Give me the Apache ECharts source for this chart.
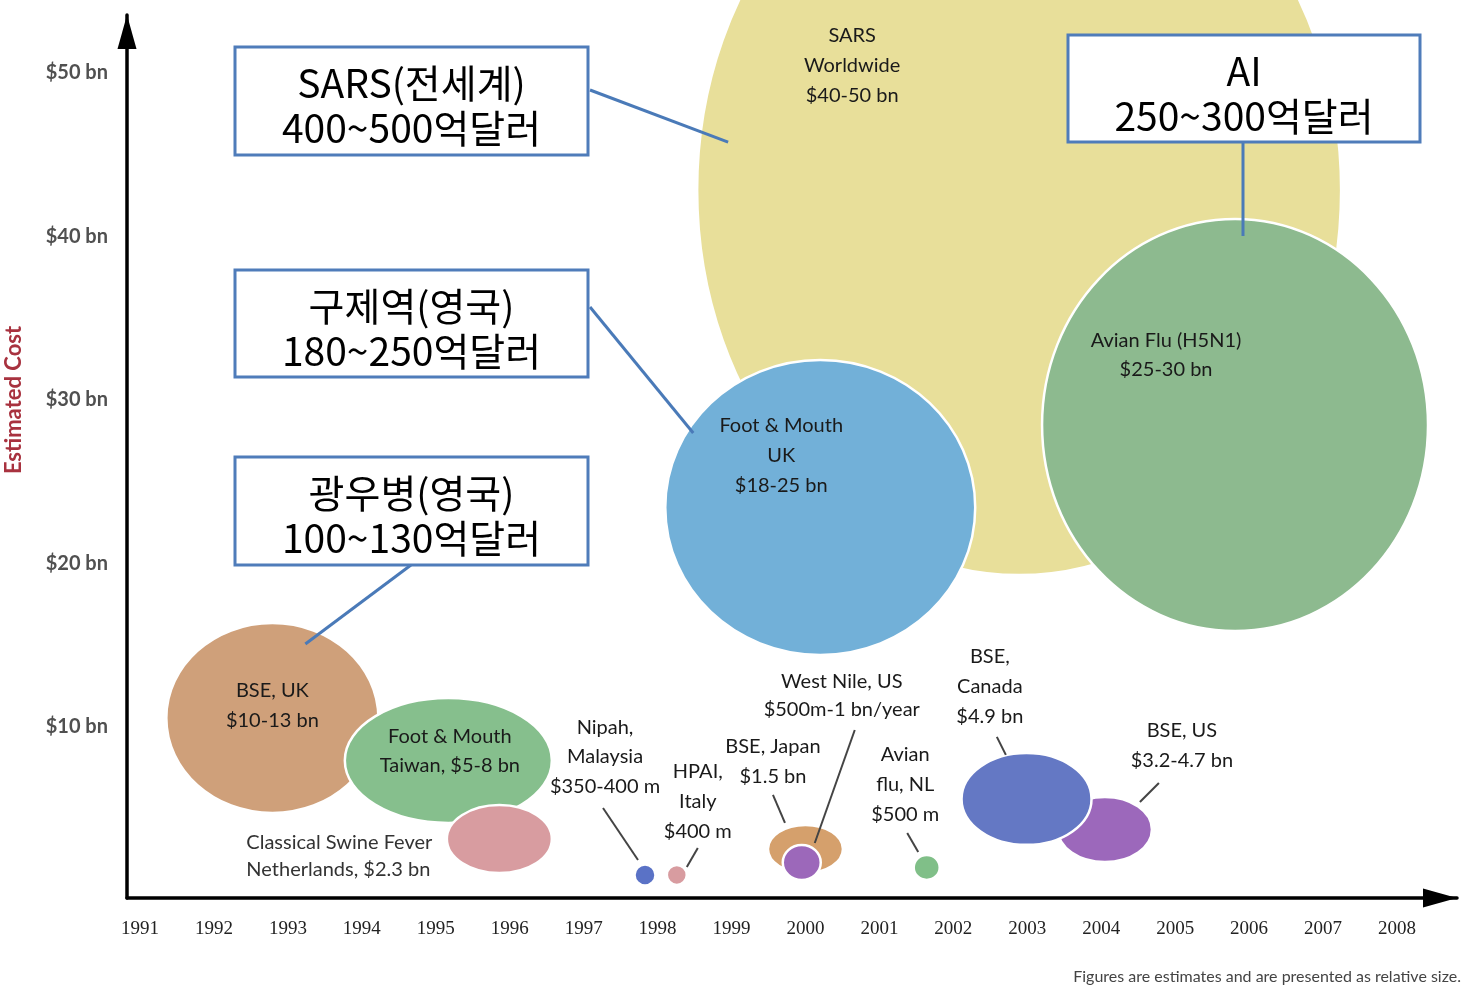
<!DOCTYPE html>
<html><head><meta charset="utf-8">
<script src="https://cdn.jsdelivr.net/npm/echarts@6/dist/echarts.min.js"></script>
<style>html,body{margin:0;padding:0;background:#fff}#c{width:1469px;height:998px}</style>
</head><body><div id="c"></div><script>
// ---- data ----
const yearTicks = [1991,1992,1993,1994,1995,1996,1997,1998,1999,2000,2001,2002,2003,2004,2005,2006,2007,2008];
const costTicks = [10,20,30,40,50];
const names = ['SARS Worldwide','Foot & Mouth UK','Avian Flu (H5N1)','BSE UK','Foot & Mouth Taiwan','Classical Swine Fever NL','Nipah Malaysia','HPAI Italy','BSE Japan','West Nile US','Avian flu NL','BSE US','BSE Canada'];
const labels = ['SARS\nWorldwide\n$40-50 bn','Foot & Mouth\nUK\n$18-25 bn','Avian Flu (H5N1)\n$25-30 bn','BSE, UK\n$10-13 bn','Foot & Mouth\nTaiwan, $5-8 bn','Classical Swine Fever\nNetherlands, $2.3 bn','Nipah,\nMalaysia\n$350-400 m','HPAI,\nItaly\n$400 m','BSE, Japan\n$1.5 bn','West Nile, US\n$500m-1 bn/year','Avian\nflu, NL\n$500 m','BSE, US\n$3.2-4.7 bn','BSE,\nCanada\n$4.9 bn'];
// bubble centre (year, $bn) and relative size (half-width in years, half-height in $bn)
const years  = [2002.89, 2000.20, 2005.81, 1992.79, 1995.17, 1995.86, 1997.83, 1998.26, 2000.00, 1999.95, 2001.64, 2004.05, 2002.99];
const costs  = [42.84,   23.43,   28.47,   10.55,   7.95,    3.15,    0.95,    0.95,    2.54,    1.71,    1.41,    3.73,    5.60];
const spanX  = [4.355,   2.096,   2.61,    1.434,   1.40,    0.71,    0.142,   0.135,   0.507,   0.257,   0.176,   0.636,   0.879];
const spanY  = [23.55,   9.02,    12.6,    5.81,    3.82,    2.08,    0.64,    0.61,    1.47,    1.07,    0.765,   1.99,    2.81];
const calloutTitles = ['SARS(전세계)','구제역(영국)','광우병(영국)','AI'];
const calloutValues = ['400~500억달러','180~250억달러','100~130억달러','250~300억달러'];
const calloutTarget = [0, 1, 3, 2];

// ---- styles ----
const colors = ['#e8df9a','#72b0d8','#8dba8f','#cfa07a','#86bf8d','#d89ca0','#5a72c6','#d89ca0','#d5a06c','#9c68ba','#80bf88','#9c68bb','#6478c4'];
const labelLayout = [
  {dx:-167, dy:-125, lh:30},
  {dx:-39, dy:-52, lh:30},
  {dx:-69, dy:-70, lh:29},
  {dx:0, dy:-12, lh:30},
  {dx:1.5, dy:-9, lh:29},
  {dx:-253, dy:17.5, lh:27, align:'left', color:'#333'},
  {dx:-40, dy:-118, lh:29.5, leader:[-42,-67,-7,-15]},
  {dx:21, dy:-73, lh:30, leader:[21,-27,10,-8]},
  {dx:-32.5, dy:-87, lh:30, leader:[-32.5,-54,-20.5,-26]},
  {dx:40, dy:-166.5, lh:28, leader:[53,-132.5,13,-19.5]},
  {dx:-21.5, dy:-82.5, lh:30, leader:[-19.5,-34.5,-8.5,-15.5]},
  {dx:77, dy:-83.5, lh:30, leader:[54,-46.5,35,-27.5]},
  {dx:-36.7, dy:-112, lh:30, leader:[-29.7,-62,-20.7,-44]}
];
const calloutBoxes = [ [235,47,353,108], [235,270,353,107], [235,457,353,108], [1068,35,352,107] ];
const calloutStart = [ [590,90], [590,307], [411,565], [1243,142] ];
const calloutEndOffset = [ [-291,-48], [-127,-74.5], [33,-74], [8,-189] ];

const bubbleData = years.map((y, i) => [y, costs[i], spanX[i], spanY[i]]);
const chart = echarts.init(document.getElementById('c'), null, {renderer:'canvas'});

const axisArrow = {show:true, onZero:false, lineStyle:{color:'#000', width:3.5}, symbol:['none','triangle'], symbolSize:[19,34], symbolOffset:[0,-17]};

chart.setOption({
  animation:false,
  backgroundColor:'#fff',
  grid:{left:127, right:12, top:15, bottom:100},
  xAxis:{type:'value', min:1990.824, max:2008.812,
    axisLine:axisArrow, axisTick:{show:false}, splitLine:{show:false},
    axisLabel:{customValues:yearTicks, formatter:v=>String(v), fontFamily:'Liberation Serif', fontSize:19, color:'#222', margin:22}},
  yAxis:{type:'value', min:-0.46, max:53.55,
    axisLine:axisArrow, axisTick:{show:false}, splitLine:{show:false},
    axisLabel:{customValues:costTicks, formatter:v=>'$'+v+' bn', fontFamily:'Lato', fontSize:20, fontWeight:'bold', color:'#505050', margin:19}},
  series:[
    {type:'custom', name:'bubbles', clip:false, data:bubbleData, encode:{x:0,y:1}, z:2,
     renderItem:function(params, api){
       const i = params.dataIndex;
       const c = api.coord([api.value(0), api.value(1)]);
       const s = api.size([api.value(2), api.value(3)]);
       return {type:'ellipse', shape:{cx:c[0], cy:c[1], rx:s[0], ry:s[1]},
               style:{fill:colors[i], stroke:'#fff', lineWidth:2.5}};
     }},
    {type:'custom', name:'labels', clip:false, data:bubbleData, encode:{x:0,y:1}, z:5,
     renderItem:function(params, api){
       const i = params.dataIndex;
       const c = api.coord([api.value(0), api.value(1)]);
       const L = labelLayout[i];
       const children = [{type:'text', x:c[0]+L.dx, y:c[1]+L.dy,
         style:{text:labels[i], font:'20px Lato', fill:L.color||'#1a1a1a',
           align:L.align||'center', verticalAlign:'middle', textAlign:L.align||'center', textVerticalAlign:'middle', lineHeight:L.lh}}];
       if (L.leader) {
         children.push({type:'line', shape:{x1:c[0]+L.leader[0], y1:c[1]+L.leader[1], x2:c[0]+L.leader[2], y2:c[1]+L.leader[3]},
           style:{stroke:'#444', lineWidth:2}});
       }
       return {type:'group', children:children};
     }}
  ]
});

const g = [];
g.push({type:'text', x:14, y:400, rotation:Math.PI/2,
  style:{text:'Estimated Cost', font:'bold 22px Lato', fill:'#a8323f', align:'center', verticalAlign:'middle', textAlign:'center', textVerticalAlign:'middle'}});
g.push({type:'text', x:1461, y:977,
  style:{text:'Figures are estimates and are presented as relative size.', font:'16px Lato', fill:'#444', align:'right', verticalAlign:'middle', textAlign:'right', textVerticalAlign:'middle'}});
calloutTitles.forEach((t, k) => {
  const b = calloutBoxes[k];
  const ti = calloutTarget[k];
  const c = chart.convertToPixel({gridIndex:0}, [years[ti], costs[ti]]);
  const e = calloutEndOffset[k];
  g.push({type:'line', z:10, shape:{x1:calloutStart[k][0], y1:calloutStart[k][1], x2:c[0]+e[0], y2:c[1]+e[1]},
    style:{stroke:'#4a7ab8', lineWidth:3}});
  g.push({type:'rect', z:11, shape:{x:b[0], y:b[1], width:b[2], height:b[3]},
    style:{fill:'#fff', stroke:'#4f7cba', lineWidth:3}});
  g.push({type:'text', z:12, x:b[0]+b[2]/2, y:b[1]+b[3]/2+5,
    style:{text:t+'\n'+calloutValues[k], font:'39px "Noto Sans CJK KR"', fill:'#000', lineHeight:45,
      align:'center', verticalAlign:'middle', textAlign:'center', textVerticalAlign:'middle'}});
});
chart.setOption({graphic:g});
</script></body></html>
